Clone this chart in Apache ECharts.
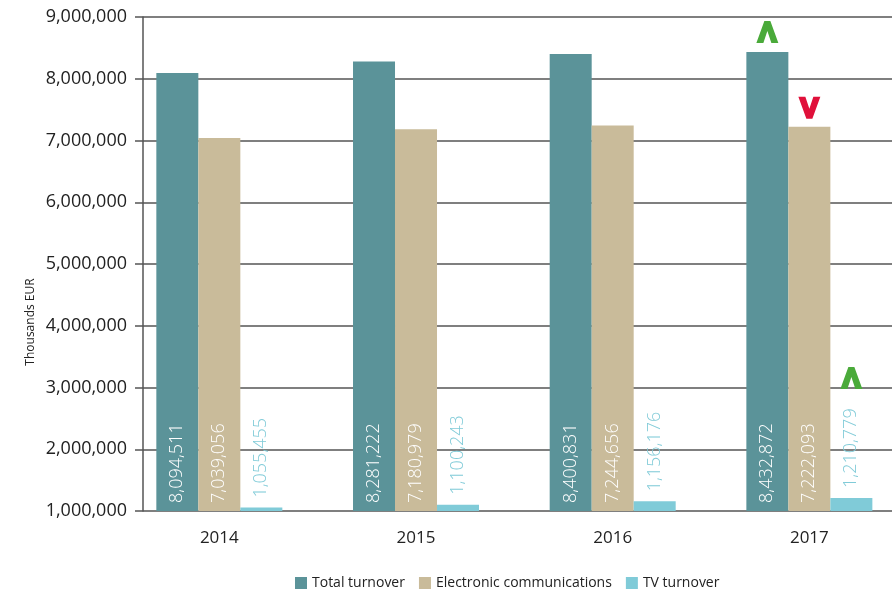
<!DOCTYPE html>
<html>
<head>
<meta charset="utf-8">
<script src="https://cdn.jsdelivr.net/npm/echarts@6/dist/echarts.min.js"></script>
<style>
  html, body { margin: 0; padding: 0; background: #fff; }
  #chart { width: 892px; height: 590px; }
</style>
</head>
<body>
<div id="chart"></div>
<script>
const years = ['2014', '2015', '2016', '2017']
const totalTurnover = [8094511, 8281222, 8400831, 8432872]
const electronicComms = [7039056, 7180979, 7244656, 7222093]
const tvTurnover = [1055455, 1100243, 1156176, 1210779]
const yMin = 1000000
const yMax = 9000000
const yStep = 1000000

const FONT = 'Open Sans'
const fmt = v => v.toLocaleString('en-US')

// trend markers on the last year
const upPath = 'path://M0,22 L8,0 L14,0 L22,22 L15,22 L11,10 L7,22 Z'
const downPath = 'path://M0,0 L7,0 L11,12 L15,0 L22,0 L14,22 L8,22 Z'
const last = years.length - 1

function valueLabel(color, position, distance) {
  return {
    show: true,
    position: position,
    distance: distance,
    rotate: 90,
    align: 'left',
    verticalAlign: 'middle',
    color: color,
    fontFamily: FONT,
    fontSize: 18,
    fontWeight: 300,
    formatter: p => fmt(p.value)
  }
}

const chart = echarts.init(document.getElementById('chart'))

const option = {
  animation: false,
  grid: [
    // bars (runs a bit past the right edge so groups line up with the original)
    { left: 121, width: 786.7, top: 17, bottom: 79, outerBoundsMode: 'none', containLabel: false },
    // visible value axis + gridlines
    { left: 143, right: 0, top: 17, bottom: 79, outerBoundsMode: 'none', containLabel: false }
  ],
  legend: {
    left: 290,
    top: 571,
    icon: 'rect',
    itemWidth: 12,
    itemHeight: 12,
    itemGap: 14,
    textStyle: { color: '#222', fontFamily: FONT, fontSize: 14 }
  },
  graphic: [{
    type: 'text',
    x: 31,
    y: 322,
    rotation: Math.PI / 2,
    style: {
      text: 'Thousands EUR',
      fill: '#222',
      font: '12px "Open Sans"',
      align: 'center',
      verticalAlign: 'middle'
    }
  }],
  xAxis: [{
    gridIndex: 0,
    type: 'category',
    data: years,
    axisLine: { show: false },
    axisTick: { show: false },
    axisLabel: { color: '#222', fontFamily: FONT, fontSize: 17, margin: 19 }
  }, {
    gridIndex: 1,
    type: 'value',
    show: false,
    min: 0,
    max: 1
  }],
  yAxis: [{
    gridIndex: 0,
    type: 'value',
    min: yMin,
    max: yMax,
    interval: yStep,
    show: false
  }, {
    gridIndex: 1,
    type: 'value',
    min: yMin,
    max: yMax,
    interval: yStep,
    axisLine: { show: true, lineStyle: { color: '#555', width: 1.5 } },
    axisTick: { show: true, length: 8, lineStyle: { color: '#555', width: 1.5 } },
    axisLabel: {
      color: '#222',
      fontFamily: FONT,
      fontSize: 18,
      margin: 16,
      formatter: v => fmt(v)
    },
    splitLine: { show: true, lineStyle: { color: '#555', width: 1.5 } }
  }],
  series: [{
    name: 'Total turnover',
    type: 'bar',
    xAxisIndex: 0,
    yAxisIndex: 0,
    data: totalTurnover,
    barWidth: 42,
    barGap: '0%',
    itemStyle: { color: '#5b9399' },
    label: valueLabel('#fff', 'insideBottom', 8),
    markPoint: {
      symbol: upPath,
      symbolSize: [22, 22],
      symbolOffset: [0, -20],
      itemStyle: { color: '#4aaa3a' },
      label: { show: false },
      data: [{ coord: [years[last], totalTurnover[last]] }]
    }
  }, {
    name: 'Electronic communications',
    type: 'bar',
    xAxisIndex: 0,
    yAxisIndex: 0,
    data: electronicComms,
    barWidth: 42,
    barGap: '0%',
    itemStyle: { color: '#c9bb9a' },
    label: valueLabel('#fff', 'insideBottom', 8),
    markPoint: {
      symbol: downPath,
      symbolSize: [22, 22],
      symbolOffset: [0, -19],
      itemStyle: { color: '#e0103a' },
      label: { show: false },
      data: [{ coord: [years[last], electronicComms[last]] }]
    }
  }, {
    name: 'TV turnover',
    type: 'bar',
    xAxisIndex: 0,
    yAxisIndex: 0,
    data: tvTurnover,
    barWidth: 42,
    barGap: '0%',
    itemStyle: { color: '#80cbd8' },
    label: valueLabel('#80cbd8', 'top', 10),
    markPoint: {
      symbol: upPath,
      symbolSize: [22, 22],
      symbolOffset: [0, -120],
      itemStyle: { color: '#4aaa3a' },
      label: { show: false },
      data: [{ coord: [years[last], tvTurnover[last]] }]
    }
  }]
}

chart.setOption(option)
</script>
</body>
</html>
